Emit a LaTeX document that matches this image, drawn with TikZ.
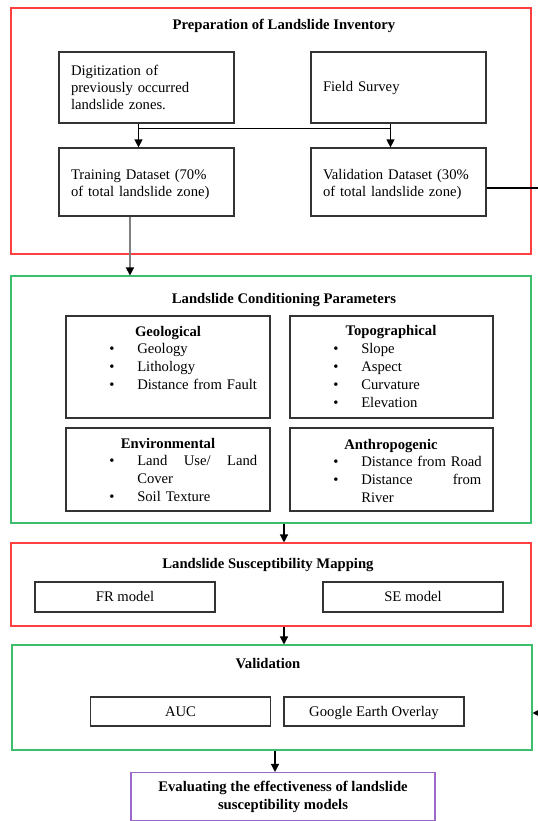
\documentclass[tikz,border=0pt]{standalone}
\usepackage{fontspec}
\setmainfont{Liberation Serif}
\usetikzlibrary{arrows.meta}
\definecolor{framered}{RGB}{255,64,64}
\definecolor{framegreen}{RGB}{60,190,110}
\definecolor{framepurple}{RGB}{155,105,200}
\newcommand{\bul}{\makebox[21pt][l]{\textbullet}}
\begin{document}
\begin{tikzpicture}[x=0.75pt,y=-0.75pt,
  font=\fontsize{11}{13}\selectfont,
  secframe/.style={draw=#1,line width=0.8pt,inner sep=0pt,minimum width=390pt},
  inbox/.style={draw=black!80,line width=0.9pt,minimum width=131.25pt,minimum height=53.25pt,
    text width=113.25pt,align=left,inner xsep=9pt},
  pbox/.style={draw=black!80,line width=0.9pt,minimum width=153pt,inner sep=0pt},
  sbox/.style={draw=black!80,line width=0.9pt,minimum width=135pt,minimum height=22.5pt,inner sep=0pt,
    text height=2ex,text depth=0.4ex},
  headtxt/.style={font=\fontsize{11}{13}\selectfont\bfseries,anchor=base},
  bullets/.style={anchor=base west,text width=115pt,align=left,inner sep=0pt,
    font=\fontsize{11}{13.5}\selectfont},
  arr/.style={-{Triangle[length=6pt,width=6pt]},line width=0.9pt}]
  \useasboundingbox (0,0) rectangle (537,821);

  % inventory
  \node[secframe=framered,minimum height=184.5pt] (inv) at (271,131) {};
  \node[headtxt] (invttl) at (284,29) {Preparation of Landslide Inventory};
  \node[inbox] (dig) at (146.5,87.5) {Digitization of\\ previously occurred\\ landslide zones.};
  \node[inbox] (field) at (398.5,87.5) {Field Survey};
  \node[inbox,minimum height=51pt,text height=2.5ex] (train) at (146.5,182) {Training Dataset (70\%\\ of total landslide zone)};
  \node[inbox,minimum height=51pt,text height=2.5ex] (valset) at (398.5,182) {Validation Dataset (30\%\\ of total landslide zone)};

  % conditioning parameters
  \node[secframe=framegreen,minimum height=185.25pt] (params) at (271,399.5) {};
  \node[headtxt] (parttl) at (284,303) {Landslide Conditioning Parameters};
  \node[pbox,minimum height=76.5pt] (geo) at (168,367) {};
  \node[pbox,minimum width=152.25pt,minimum height=76.5pt] (topo) at (391.5,367) {};
  \node[pbox,minimum height=62.25pt] (env) at (168,469.5) {};
  \node[pbox,minimum width=152.25pt,minimum height=62.25pt] (anth) at (391.5,469.5) {};
  \node[headtxt] (geohd) at (168,336) {Geological};
  \node[headtxt] (topohd) at (391,335) {Topographical};
  \node[headtxt] (envhd) at (168,448) {Environmental};
  \node[headtxt] (anthhd) at (391,449) {Anthropogenic};
  \node[bullets] (geoit) at (109,353) {\bul Geology\\ \bul Lithology\\ \bul Distance from Fault};
  \node[bullets] (topoit) at (333,353) {\bul Slope\\ \bul Aspect\\ \bul Curvature\\ \bul Elevation};
  \node[bullets] (envit) at (109,465) {\bul\makebox[90pt][l]{Land\hfill Use/\hfill Land}\\ \hspace*{21pt}Cover\\ \bul Soil Texture};
  \node[bullets] (anthit) at (333,466) {\bul Distance from Road\\ \bul\makebox[90pt][l]{Distance\hfill from}\\ \hspace*{21pt}River};

  % mapping
  \node[secframe=framered,minimum height=62.25pt] (map) at (271,584.5) {};
  \node[headtxt] (mapttl) at (268,568) {Landslide Susceptibility Mapping};
  \node[sbox] (fr) at (125,597) {FR model};
  \node[sbox] (se) at (413,597) {SE model};

  % validation
  \node[secframe=framegreen,minimum height=78.75pt] (valid) at (272,697.5) {};
  \node[headtxt] (valttl) at (268,668) {Validation};
  \node[sbox,minimum height=21.75pt] (auc) at (180.5,711.5) {AUC};
  \node[sbox,minimum height=21.75pt] (gee) at (374,711.5) {Google Earth Overlay};

  \node[secframe=framepurple,minimum width=228pt,minimum height=36pt,align=center,
    font=\fontsize{11}{13.5}\selectfont\bfseries] (eval) at (283,796.5)
    {Evaluating the effectiveness of landslide\\ susceptibility models};

  % connectors
  \draw[arr] ([xshift=-6pt]dig.south) -- ([xshift=-6pt]train.north);
  \draw[arr] ([xshift=-6pt]field.south) -- ([xshift=-6pt]valset.north);
  \draw[line width=0.9pt] ([xshift=-6pt,yshift=-3.75pt]dig.south) -| ([xshift=-6pt]field.south);
  \draw[line width=1.2pt,gray,-{Triangle[length=6pt,width=6pt,color=black]}]
    ([xshift=-12.4pt]train.south) coordinate (g) -- (g |- params.north);
  \draw[arr] ([yshift=-4.5pt]valset.east) -- (541,188) -- (541,713) -- (valid.east |- 0,713);
  \draw[arr] ([xshift=9.75pt]params.south) coordinate (p) -- (p |- map.north);
  \draw[arr] ([xshift=9.75pt]map.south) coordinate (q) -- (q |- valid.north);
  \draw[arr] (valid.south -| 275,0) -- (eval.north -| 275,0);
\end{tikzpicture}
\end{document}
